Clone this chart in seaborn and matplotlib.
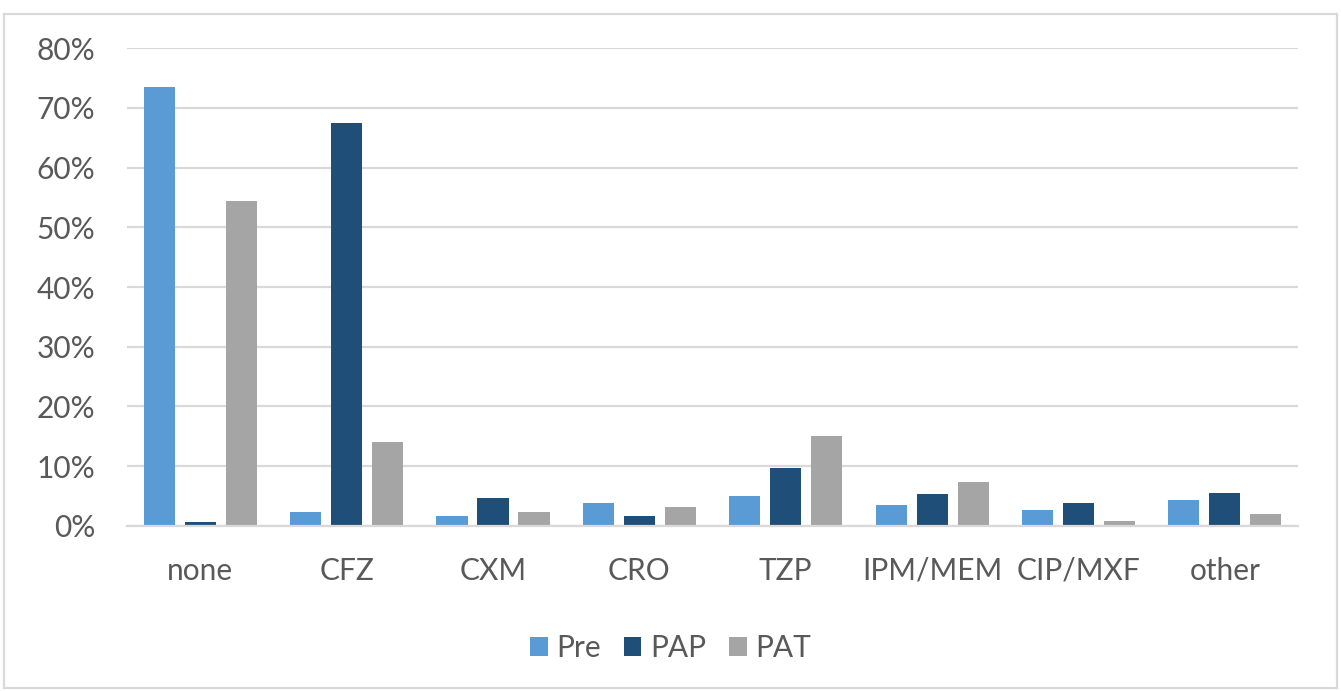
import numpy as np
import pandas as pd
import matplotlib.pyplot as plt
import seaborn as sns
from matplotlib.patches import Rectangle

# values (% of patients)
categories = ["none", "CFZ", "CXM", "CRO", "TZP", "IPM/MEM", "CIP/MXF", "other"]
pre = [73.4, 2.3, 1.7, 3.8, 5.0, 3.5, 2.6, 4.4]
pap = [0.6, 67.5, 4.7, 1.7, 9.7, 5.3, 3.8, 5.5]
pat = [54.4, 14.1, 2.3, 3.2, 15.0, 7.3, 0.8, 2.0]
series = ["Pre", "PAP", "PAT"]
colours = ["#5B9BD5", "#1F4E79", "#A5A5A5"]
yticks = [0, 10, 20, 30, 40, 50, 60, 70, 80]

df = pd.DataFrame({
    "drug": categories * 3,
    "group": ["Pre"] * 8 + ["PAP"] * 8 + ["PAT"] * 8,
    "value": pre + pap + pat,
})

sns.set_style("white")
plt.rcParams["font.family"] = ["Lato", "DejaVu Sans"]
text_col = "#595959"
grid_col = "#D9D9D9"
fs = 21.5

fig = plt.figure(figsize=(13.41, 6.91), dpi=100)
ax = fig.add_axes([0.0947, 0.2388, 0.9680 - 0.0947, 0.9305 - 0.2388])

sns.barplot(data=df, x="drug", y="value", hue="group", hue_order=series,
            palette=colours, order=categories, width=0.84, gap=0.24,
            saturation=1, linewidth=0, ax=ax)

ax.set_ylim(0, 80)
ax.set_yticks(yticks)
ax.set_yticklabels([f"{t}%" for t in yticks])
ax.yaxis.grid(True, color=grid_col, linewidth=1.6)
ax.set_axisbelow(True)
ax.set_xlim(-0.5, len(categories) - 0.5)
for s in ["top", "right", "left"]:
    ax.spines[s].set_visible(False)
ax.spines["bottom"].set_color(grid_col)
ax.spines["bottom"].set_linewidth(1.6)
ax.tick_params(axis="both", length=0, labelsize=fs, labelcolor=text_col)
ax.tick_params(axis="y", pad=23)
ax.tick_params(axis="x", pad=22)
ax.set_xlabel("")
ax.set_ylabel("")

ax.legend(loc="center", bbox_to_anchor=(0.5, 0.062), bbox_transform=fig.transFigure,
          ncol=3, frameon=False, fontsize=fs, handlelength=0.6, handleheight=0.6,
          handletextpad=0.3, columnspacing=0.75, labelcolor=text_col)

# chart frame
fig.patches.append(Rectangle((0.003, 0.005), 0.994, 0.975, transform=fig.transFigure,
                             fill=False, edgecolor=grid_col, linewidth=1.6))

fig.savefig("out.png", dpi=100)
